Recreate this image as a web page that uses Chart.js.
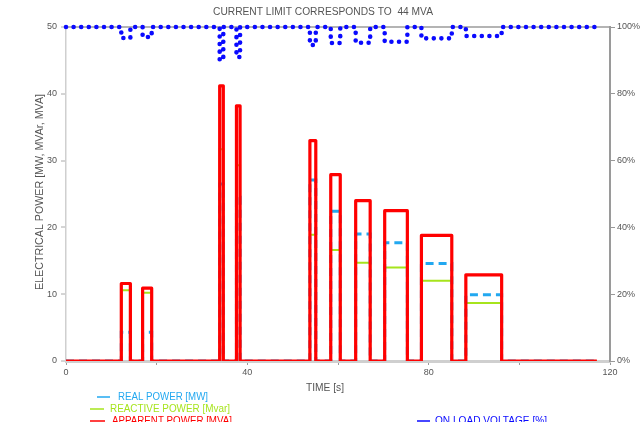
<!DOCTYPE html>
<html>
<head>
<meta charset="utf-8">
<script src="https://cdn.jsdelivr.net/npm/chart.js@4/dist/chart.umd.min.js"></script>
<style>
html,body{margin:0;padding:0;background:#fff;}
canvas{display:block;}
</style>
</head>
<body>
<canvas id="c" width="641" height="422"></canvas>
<script>
// ---- data ----
const pulseStart     = [12.2, 16.9, 33.9, 37.6, 53.8, 58.4, 63.9, 70.3, 78.4, 88.2];
const pulseEnd       = [14.2, 18.9, 34.7, 38.4, 55.1, 60.5, 67.1, 75.3, 85.1, 96.1];
const apparentPower  = [11.6, 10.9, 41.2, 38.2, 33.0, 27.9, 24.0, 22.5, 18.8, 12.9];
const realPower      = [4.3, 4.3, 26.5, 24.5, 27.1, 22.4, 19.0, 17.7, 14.6, 9.9];
const reactivePower  = [10.6, 10.2, 31.7, 29.3, 18.9, 16.6, 14.7, 14.0, 12.0, 8.7];
const voltageDip     = [96.7, 97.0, 90.1, 91.0, 94.6, 95.2, 95.3, 95.6, 96.6, 97.3];
const voltageBase    = 100;
const endTime        = 117.1;
const xTicks         = [0, 20, 40, 60, 80, 100, 120];
const xLabelled      = [0, 40, 80, 120];
const titleText      = 'CURRENT LIMIT CORRESPONDS TO  44 MVA';
const legendLabels   = ['REAL POWER [MW]', 'REACTIVE POWER [Mvar]', 'APPARENT POWER [MVA]', 'ON LOAD VOLTAGE [%]'];

function stepSeries(values, base) {
  const pts = [{x: 0, y: base}];
  for (let i = 0; i < values.length; i++) {
    pts.push({x: pulseStart[i], y: base});
    pts.push({x: pulseStart[i], y: values[i]});
    pts.push({x: pulseEnd[i], y: values[i]});
    pts.push({x: pulseEnd[i], y: base});
  }
  pts.push({x: endTime, y: base});
  return pts;
}

const colors = {
  real: '#22a8f0',
  reactive: '#a6e41c',
  apparent: '#ff0000',
  voltage: '#0a0aff'
};

// draw text stretched horizontally to a target width
function fitText(ctx, text, x, y, width, align) {
  const w = ctx.measureText(text).width;
  const sx = width / w;
  ctx.save();
  ctx.translate(x, y);
  ctx.scale(sx, 1);
  ctx.textAlign = align;
  ctx.fillText(text, 0, 0);
  ctx.restore();
}

const overlay = {
  id: 'overlay',
  afterDraw(chart) {
    const ctx = chart.ctx;
    ctx.save();
    ctx.font = '10px "Liberation Sans", Arial, Helvetica, sans-serif';
    ctx.fillStyle = '#555';
    ctx.textBaseline = 'middle';
    fitText(ctx, titleText, 213, 12, 220, 'left');
    fitText(ctx, 'TIME [s]', 306, 388, 38, 'left');
    ctx.save();
    ctx.translate(40, 192);
    ctx.rotate(-Math.PI / 2);
    fitText(ctx, 'ELECTRICAL POWER [MW, MVAr, MVA]', 0, 0, 196, 'center');
    ctx.restore();
    // legend
    const items = [
      {t: legendLabels[0], c: colors.real, x1: 97, x2: 110, tx: 118, w: 90, y: 397},
      {t: legendLabels[1], c: colors.reactive, x1: 90, x2: 104, tx: 110, w: 120, y: 409},
      {t: legendLabels[2], c: colors.apparent, x1: 90, x2: 105, tx: 112, w: 120, y: 421},
      {t: legendLabels[3], c: colors.voltage, x1: 417, x2: 430, tx: 435, w: 112, y: 421}
    ];
    items.forEach(it => {
      ctx.strokeStyle = it.c;
      ctx.lineWidth = 1.5;
      ctx.beginPath();
      ctx.moveTo(it.x1, it.y);
      ctx.lineTo(it.x2, it.y);
      ctx.stroke();
      ctx.fillStyle = it.c;
      fitText(ctx, it.t, it.tx, it.y, it.w, 'left');
    });
    ctx.restore();
  }
};

const tickFont = {family: '"Liberation Sans", Arial, sans-serif', size: 9};

new Chart(document.getElementById('c'), {
  type: 'line',
  data: {
    datasets: [
      {
        label: legendLabels[2],
        data: stepSeries(apparentPower, 0),
        borderColor: colors.apparent,
        borderWidth: 3.2,
        borderJoinStyle: 'round',
        pointRadius: 0,
        yAxisID: 'y'
      },
      {
        label: legendLabels[0],
        data: stepSeries(realPower, 0),
        borderColor: colors.real,
        borderWidth: 3,
        borderDash: [8, 5],
        pointRadius: 0,
        yAxisID: 'y'
      },
      {
        label: legendLabels[1],
        data: stepSeries(reactivePower, 0),
        borderColor: colors.reactive,
        borderWidth: 2,
        pointRadius: 0,
        yAxisID: 'y'
      },
      {
        label: legendLabels[3],
        data: stepSeries(voltageDip, voltageBase),
        borderColor: colors.voltage,
        borderWidth: 4.6,
        borderDash: [0, 7.6],
        borderCapStyle: 'round',
        pointRadius: 0,
        clip: 8,
        yAxisID: 'y1'
      }
    ]
  },
  options: {
    responsive: false,
    animation: false,
    layout: {padding: {top: 27, left: 0, right: 0, bottom: 0}},
    plugins: {legend: {display: false}, tooltip: {enabled: false}, title: {display: false}},
    scales: {
      x: {
        type: 'linear',
        min: 0, max: 120,
        afterBuildTicks: s => { s.ticks = xTicks.map(v => ({value: v})); },
        afterFit: s => { s.height = 61; },
        ticks: {
          autoSkip: false, maxRotation: 0, padding: 2,
          color: '#555', font: tickFont,
          callback: v => xLabelled.includes(v) ? String(v) : ''
        },
        grid: {drawOnChartArea: false, tickLength: 4, tickColor: '#999', tickWidth: 1},
        border: {color: '#cfcfcf', width: 3}
      },
      y: {
        type: 'linear', position: 'left',
        min: 0, max: 50,
        afterFit: s => { s.width = 66; },
        ticks: {stepSize: 10, padding: 4, color: '#555', font: tickFont},
        grid: {
          drawOnChartArea: true,
          color: c => (c.tick && c.tick.value === 50) ? '#b4b4b4' : 'rgba(0,0,0,0)',
          lineWidth: 2,
          tickLength: 5, tickColor: '#aaa', tickWidth: 1
        },
        border: {color: '#cfcfcf', width: 1.5}
      },
      y1: {
        type: 'linear', position: 'right',
        min: 0, max: 100,
        afterFit: s => { s.width = 31; },
        ticks: {stepSize: 20, padding: 2, color: '#555', font: tickFont, callback: v => v + '%'},
        grid: {drawOnChartArea: false, tickLength: 5, tickColor: '#999', tickWidth: 1},
        border: {color: '#9a9a9a', width: 2}
      }
    }
  },
  plugins: [overlay]
});
</script>
</body>
</html>
